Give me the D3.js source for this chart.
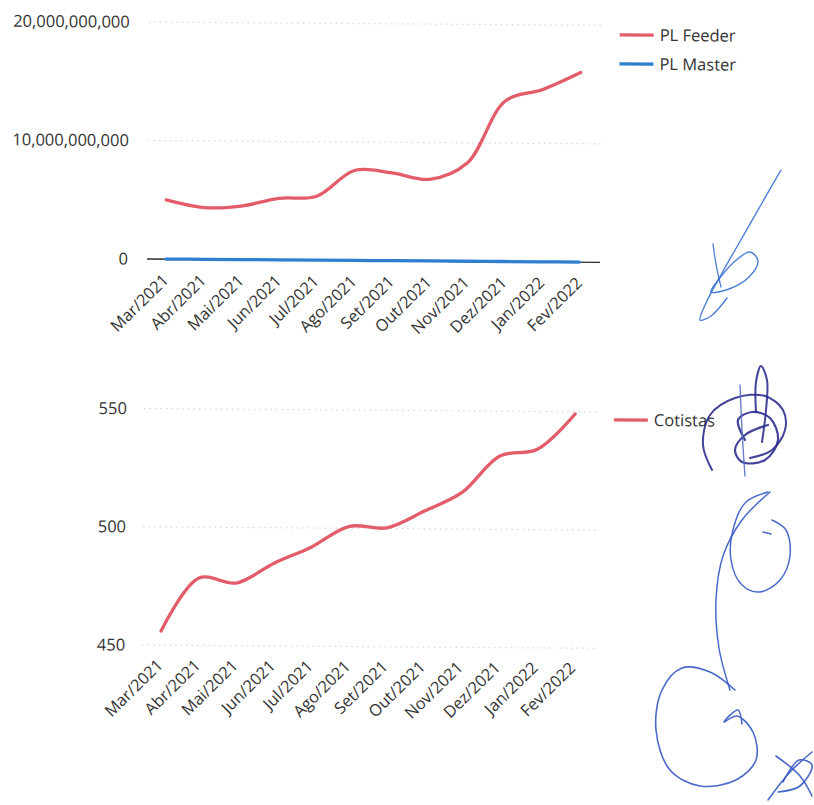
<!DOCTYPE html>
<html>
<head>
<meta charset="utf-8">
<script src="https://cdn.jsdelivr.net/npm/d3@7"></script>
<style>
  html, body { margin: 0; padding: 0; background: #fff; }
  svg { display: block; }
  text { font-family: "Open Sans", "Noto Sans", sans-serif; fill: #333; }
</style>
</head>
<body>
<svg id="page" width="814" height="805"></svg>
<script>
// Months shared by both charts
const months = ["Mar/2021","Abr/2021","Mai/2021","Jun/2021","Jul/2021","Ago/2021",
                "Set/2021","Out/2021","Nov/2021","Dez/2021","Jan/2022","Fev/2022"];

// Net worth (PL) of the feeder and master funds, in BRL
const plFeeder = [5.0e9, 4.38e9, 4.53e9, 5.2e9, 5.4e9, 7.6e9,
                  7.42e9, 6.9e9, 8.3e9, 13.55e9, 14.55e9, 16.0e9];
const plMaster = [0.01e9, 0.01e9, 0.01e9, 0.01e9, 0.01e9, 0.01e9,
                  0.01e9, 0.01e9, 0.01e9, 0.01e9, 0.01e9, 0.01e9];
const plTicks = [0, 10e9, 20e9];

// Number of unit holders
const cotistas = [456, 478.5, 476.5, 485, 492, 500.8,
                  500.3, 507.5, 515.5, 531, 534, 549];
const cotTicks = [450, 500, 550];

const red = "#e35c6a";
const blue = "#2e7fd0";
const fmt = d3.format(",");

const svg = d3.select("#page");
svg.append("rect").attr("width", 814).attr("height", 805).attr("fill", "#fff");

// slight skew of the scanned sheet
const sheet = svg.append("g").attr("transform", "rotate(0.42, 145, 400)");

function lineChart(g, opt) {
  const x = d3.scalePoint().domain(months).range(opt.xRange).padding(0.5);
  const y = d3.scaleLinear().domain(opt.yDomain).range(opt.yRange);

  // dotted gridlines
  g.append("g").selectAll("line").data(opt.grid).join("line")
    .attr("x1", opt.xRange[0]).attr("x2", opt.xRange[1] + 3)
    .attr("y1", d => y(d)).attr("y2", d => y(d))
    .attr("stroke", "#d6d6d6").attr("stroke-width", 1.2)
    .attr("stroke-dasharray", "1.5 4");

  if (opt.baseline) {
    g.append("line")
      .attr("x1", opt.xRange[0]).attr("x2", opt.xRange[1] + 2)
      .attr("y1", y(0)).attr("y2", y(0))
      .attr("stroke", "#2a2a2a").attr("stroke-width", 1.3);
  }

  // y tick labels
  g.append("g").selectAll("text").data(opt.yTicks).join("text")
    .attr("x", opt.labelX).attr("y", d => y(d))
    .attr("dy", "0.35em").attr("text-anchor", "end")
    .style("font-size", "16.5px")
    .text(d => fmt(d));

  // x tick labels, slanted
  g.append("g").selectAll("text").data(months).join("text")
    .attr("text-anchor", "end")
    .attr("transform", d => `translate(${x(d) + opt.tickDx},${opt.tickY}) rotate(-45)`)
    .style("font-size", "16.3px")
    .text(d => d);

  const line = d3.line()
    .x((d, i) => x(months[i]))
    .y(d => y(d))
    .curve(d3.curveCatmullRom.alpha(0.5));

  opt.series.forEach(s => {
    g.append("path").datum(s.values)
      .attr("d", line)
      .attr("fill", "none")
      .attr("stroke", s.color)
      .attr("stroke-width", 3.3)
      .attr("stroke-linecap", "round");
  });

  // legend
  const lg = g.append("g").attr("transform", `translate(${opt.legend[0]},${opt.legend[1]})`);
  opt.series.forEach((s, i) => {
    const row = lg.append("g").attr("transform", `translate(0,${i * 29})`);
    row.append("line").attr("x1", 0).attr("x2", 34).attr("y1", 0).attr("y2", 0)
      .attr("stroke", s.color).attr("stroke-width", 3.2);
    row.append("text").attr("x", 40).attr("y", 0).attr("dy", "0.35em")
      .style("font-size", "16.5px").text(s.name);
  });
}

// Top chart: PL Feeder vs PL Master
lineChart(sheet.append("g"), {
  xRange: [146, 597],
  yDomain: [0, 20e9],
  yRange: [259, 22],
  grid: [10e9, 20e9],
  baseline: true,
  yTicks: plTicks,
  labelX: 127,
  tickDx: 4,
  tickY: 281,
  legend: [617, 31.5],
  series: [
    { name: "PL Feeder", values: plFeeder, color: red },
    { name: "PL Master", values: plMaster, color: blue }
  ]
});

// Bottom chart: Cotistas
lineChart(sheet.append("g"), {
  xRange: [144, 594],
  yDomain: [450, 550],
  yRange: [645, 408.5],
  grid: [450, 500, 550],
  baseline: false,
  yTicks: cotTicks,
  labelX: 127,
  tickDx: 3,
  tickY: 666,
  legend: [614, 416.5],
  series: [
    { name: "Cotistas", values: cotistas, color: red }
  ]
});

// Ink signatures in the right margin
const inkStrokes = [
  { c: "#3b6fd0", w: 1.4, p: [[781,170],[762,203],[742,238],[722,273],[706,303],[700,320],[711,316],[727,298]] },
  { c: "#3b6fd0", w: 1.4, p: [[716,283],[733,263],[750,252],[758,261],[749,277],[729,289],[711,292],[716,283]] },
  { c: "#3b6fd0", w: 1.3, p: [[713,244],[716,264],[721,287]] },
  { c: "#2d2f8e", w: 2.0, p: [[712,470],[703,445],[710,415],[735,398],[765,396],[783,410],[785,430],[772,450],[750,458]] },
  { c: "#2d2f8e", w: 2.0, p: [[756,412],[756,382],[761,366],[767,380],[766,410],[762,442]] },
  { c: "#2d2f8e", w: 2.2, p: [[745,440],[738,420],[752,412],[770,418],[778,440],[765,460],[742,462],[735,450],[745,435],[768,425]] },
  { c: "#5a6fc8", w: 1.4, p: [[740,385],[742,430],[745,476]] },
  { c: "#3559c4", w: 1.5, p: [[768,492],[746,502],[734,526],[731,560],[742,585],[760,592],[780,580],[790,556],[786,530],[772,520]] },
  { c: "#3559c4", w: 1.5, p: [[770,492],[742,520],[723,556],[716,600],[719,648],[730,690]] },
  { c: "#3559c4", w: 1.5, p: [[763,532],[771,534]] },
  { c: "#3559c4", w: 1.6, p: [[735,690],[710,672],[682,668],[662,690],[656,730],[670,770],[700,786],[736,780],[756,760],[753,732],[737,716],[724,722],[738,710],[742,724]] },
  { c: "#3559c4", w: 1.6, p: [[768,800],[790,772],[812,752]] },
  { c: "#3559c4", w: 1.6, p: [[776,756],[800,776],[812,796]] },
  { c: "#3559c4", w: 1.6, p: [[783,782],[799,760],[812,765],[800,786],[778,792]] }
];
const inkLine = d3.line().curve(d3.curveCatmullRom.alpha(0.5));
svg.append("g").selectAll("path").data(inkStrokes).join("path")
  .attr("d", d => inkLine(d.p))
  .attr("fill", "none")
  .attr("stroke", d => d.c)
  .attr("stroke-width", d => d.w)
  .attr("stroke-linecap", "round")
  .attr("opacity", 0.9);
</script>
</body>
</html>
